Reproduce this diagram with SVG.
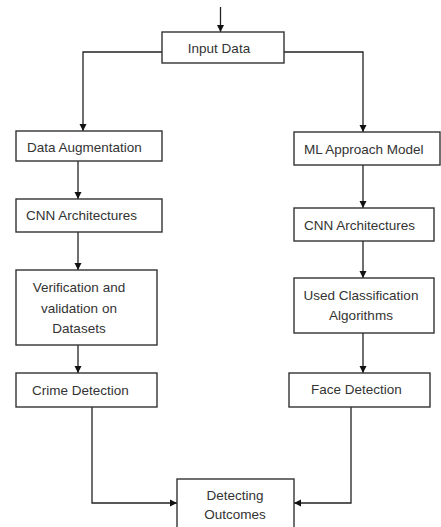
<svg xmlns="http://www.w3.org/2000/svg" width="441" height="527" viewBox="0 0 441 527">
<style>
.box{fill:#fff;stroke:#333;stroke-width:1.4}
.t{font-family:"Liberation Sans",Arial,sans-serif;font-size:13.5px;fill:#333}
.c{text-anchor:middle}
.ln{fill:none;stroke:#222;stroke-width:1.3}
</style>
<defs>
<marker id="ah" markerWidth="7" markerHeight="8" refX="7" refY="4" orient="auto" markerUnits="userSpaceOnUse">
<path d="M0,0.5 L7,4 L0,7.5 Z" fill="#111"/>
</marker>
</defs>
<rect width="441" height="527" fill="#fff"/>
<g id="connectors">
<path class="ln" marker-end="url(#ah)" d="M220.5,7 V32"/>
<path class="ln" marker-end="url(#ah)" d="M162,52 H83 V131"/>
<path class="ln" marker-end="url(#ah)" d="M284,52 H363 V132"/>
<path class="ln" marker-end="url(#ah)" d="M78,161 V199"/>
<path class="ln" marker-end="url(#ah)" d="M78,232 V270"/>
<path class="ln" marker-end="url(#ah)" d="M78,345 V373"/>
<path class="ln" marker-end="url(#ah)" d="M363,165 V208"/>
<path class="ln" marker-end="url(#ah)" d="M363,241 V278"/>
<path class="ln" marker-end="url(#ah)" d="M363,333 V373"/>
<path class="ln" marker-end="url(#ah)" d="M92,407 V503 H177"/>
<path class="ln" marker-end="url(#ah)" d="M351,407 V503 H294"/>
</g>
<g id="input">
<rect class="box" x="162" y="32" width="122" height="31"/>
<text class="t c" x="219" y="53">Input Data</text>
</g>
<g id="augment">
<rect class="box" x="16" y="131" width="146" height="30"/>
<text class="t" x="27" y="152">Data Augmentation</text>
</g>
<g id="ml">
<rect class="box" x="294" y="132" width="146" height="33"/>
<text class="t" x="304" y="154">ML Approach Model</text>
</g>
<g id="cnn-left">
<rect class="box" x="16" y="199" width="146" height="33"/>
<text class="t" x="26" y="220">CNN Architectures</text>
</g>
<g id="cnn-right">
<rect class="box" x="294" y="208" width="140" height="33"/>
<text class="t" x="304" y="230">CNN Architectures</text>
</g>
<g id="verify">
<rect class="box" x="16" y="270" width="141" height="75"/>
<text class="t c" x="79" y="292">Verification and</text>
<text class="t c" x="79" y="313">validation on</text>
<text class="t c" x="79" y="333">Datasets</text>
</g>
<g id="classify">
<rect class="box" x="294" y="278" width="140" height="55"/>
<text class="t c" x="361" y="300">Used Classification</text>
<text class="t c" x="361" y="320">Algorithms</text>
</g>
<g id="crime">
<rect class="box" x="16" y="373" width="141" height="34"/>
<text class="t" x="32" y="395">Crime Detection</text>
</g>
<g id="face">
<rect class="box" x="289" y="373" width="141" height="34"/>
<text class="t" x="311" y="394">Face Detection</text>
</g>
<g id="outcomes">
<rect class="box" x="177" y="479" width="117" height="55"/>
<text class="t c" x="235" y="500">Detecting</text>
<text class="t c" x="235" y="519">Outcomes</text>
</g>
</svg>
